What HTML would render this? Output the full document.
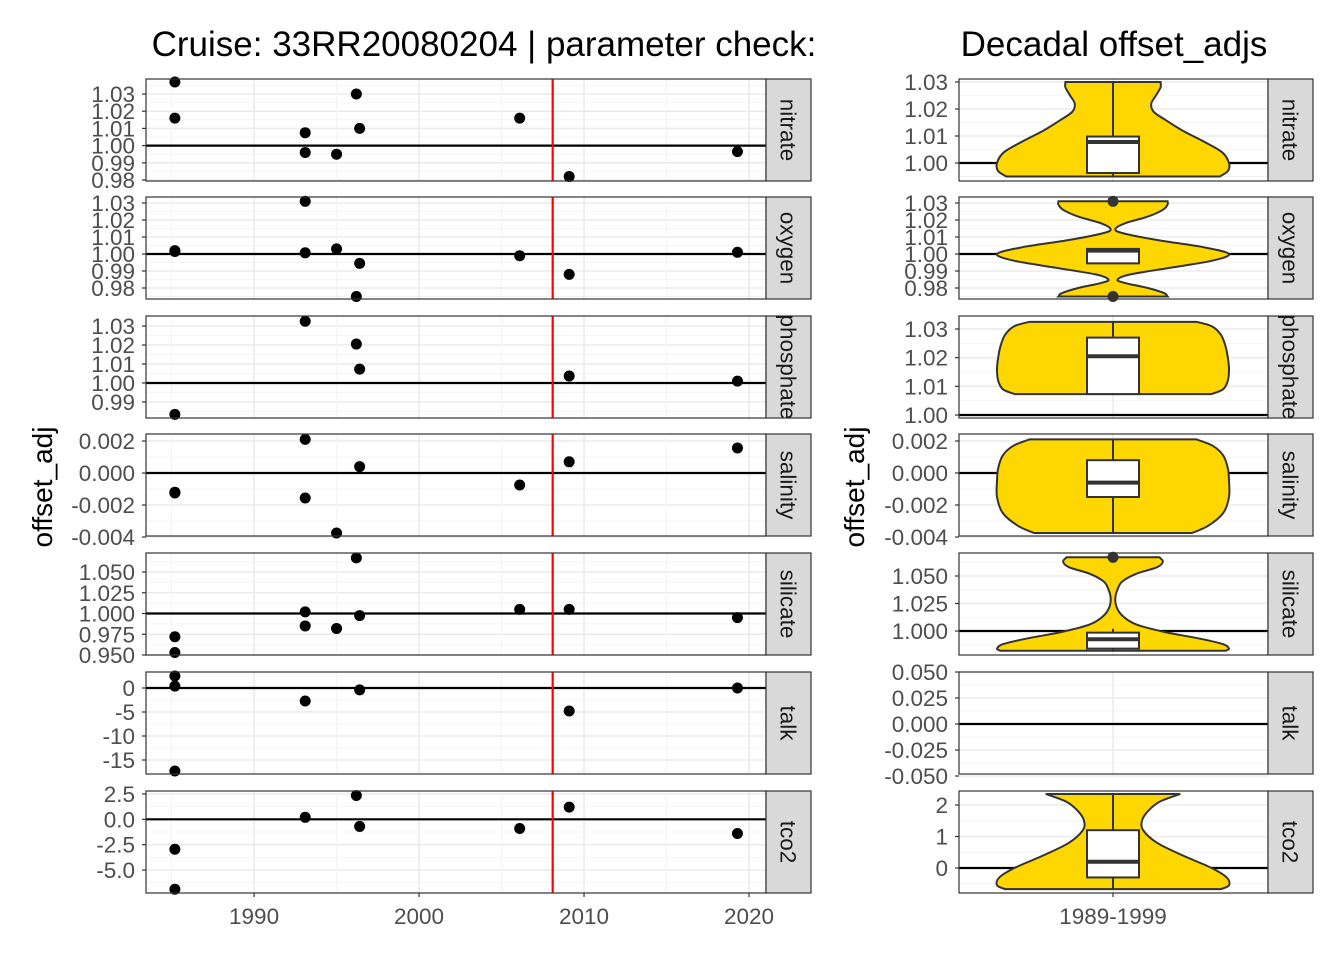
<!DOCTYPE html>
<html><head><meta charset="utf-8">
<style>
html,body{margin:0;padding:0;background:#fff;}
svg{display:block;font-family:"Liberation Sans",sans-serif;}
</style></head>
<body>
<svg id="chart" width="1344" height="960" viewBox="0 0 1344 960" xmlns="http://www.w3.org/2000/svg"></svg>
<script>
// ---------- DATA ----------
const params = ["nitrate","oxygen","phosphate","salinity","silicate","talk","tco2"];
const years = {
  nitrate:[1985.2,1985.2,1993.1,1993.1,1995.0,1996.2,1996.4,2006.1,2009.1,2019.3],
  oxygen:[1985.2,1985.2,1993.1,1993.1,1995.0,1996.2,1996.4,2006.1,2009.1,2019.3],
  phosphate:[1985.2,1993.1,1996.2,1996.4,2009.1,2019.3],
  salinity:[1985.2,1985.2,1993.1,1993.1,1995.0,1996.4,2006.1,2009.1,2019.3],
  silicate:[1985.2,1985.2,1993.1,1993.1,1995.0,1996.2,1996.4,2006.1,2009.1,2019.3],
  talk:[1985.2,1985.2,1985.2,1993.1,1996.4,2009.1,2019.3],
  tco2:[1985.2,1985.2,1993.1,1996.2,1996.4,2006.1,2009.1,2019.3]
};
const offsets = {
  nitrate:[1.037,1.016,1.0075,0.996,0.995,1.03,1.01,1.016,0.982,0.9965],
  oxygen:[1.002,1.0015,1.031,1.0007,1.003,0.975,0.9945,0.999,0.988,1.001],
  phosphate:[0.9835,1.0325,1.0205,1.0073,1.0037,1.001],
  salinity:[-0.00125,-0.0012,0.0021,-0.00156,-0.00375,0.0004,-0.00075,0.0007,0.00156],
  silicate:[0.972,0.953,1.002,0.985,0.982,1.067,0.9975,1.005,1.005,0.995],
  talk:[2.5,0.4,-17.3,-2.7,-0.4,-4.8,0],
  tco2:[-2.95,-6.9,0.2,2.35,-0.7,-0.9,1.2,-1.4]
};
const leftTicks = {
  nitrate:[1.03,1.02,1.01,1.00,0.99,0.98],
  oxygen:[1.03,1.02,1.01,1.00,0.99,0.98],
  phosphate:[1.03,1.02,1.01,1.00,0.99],
  salinity:[0.002,0.000,-0.002,-0.004],
  silicate:[1.050,1.025,1.000,0.975,0.950],
  talk:[0,-5,-10,-15],
  tco2:[2.5,0.0,-2.5,-5.0]
};
const leftTickLabels = {
  nitrate:["1.03","1.02","1.01","1.00","0.99","0.98"],
  oxygen:["1.03","1.02","1.01","1.00","0.99","0.98"],
  phosphate:["1.03","1.02","1.01","1.00","0.99"],
  salinity:["0.002","0.000","-0.002","-0.004"],
  silicate:["1.050","1.025","1.000","0.975","0.950"],
  talk:["0","-5","-10","-15"],
  tco2:["2.5","0.0","-2.5","-5.0"]
};
const rightTicks = {
  nitrate:[1.03,1.02,1.01,1.00],
  oxygen:[1.03,1.02,1.01,1.00,0.99,0.98],
  phosphate:[1.03,1.02,1.01,1.00],
  salinity:[0.002,0.000,-0.002,-0.004],
  silicate:[1.050,1.025,1.000],
  talk:[0.050,0.025,0.000,-0.025,-0.050],
  tco2:[2,1,0]
};
const rightTickLabels = {
  nitrate:["1.03","1.02","1.01","1.00"],
  oxygen:["1.03","1.02","1.01","1.00","0.99","0.98"],
  phosphate:["1.03","1.02","1.01","1.00"],
  salinity:["0.002","0.000","-0.002","-0.004"],
  silicate:["1.050","1.025","1.000"],
  talk:["0.050","0.025","0.000","-0.025","-0.050"],
  tco2:["2","1","0"]
};
const violinVals = {
  nitrate:[0.995,0.997,1.0,1.004,1.008,1.012,1.016,1.019,1.022,1.025,1.028,1.03],
  oxygen:[0.975,0.977,0.980,0.983,0.985,0.988,0.992,0.996,1.0,1.004,1.008,1.012,1.0145,1.018,1.022,1.026,1.029,1.031],
  phosphate:[1.0073,1.009,1.012,1.016,1.020,1.024,1.028,1.031,1.0325],
  salinity:[-0.00375,-0.0033,-0.0025,-0.0015,-0.0005,0.0003,0.0011,0.0017,0.0021],
  silicate:[0.982,0.984,0.988,0.993,0.999,1.006,1.014,1.022,1.030,1.038,1.045,1.052,1.058,1.063,1.067],
  tco2:[-0.67,-0.55,-0.3,0.0,0.4,0.8,1.2,1.5,1.8,2.1,2.35]
};
const violinWidths = {
  nitrate:[0.92,0.99,1.0,0.94,0.78,0.6,0.45,0.35,0.33,0.37,0.41,0.41],
  oxygen:[0.47,0.44,0.3,0.1,0.04,0.15,0.5,0.85,1.0,0.78,0.4,0.1,0.02,0.1,0.3,0.43,0.47,0.47],
  phosphate:[0.85,0.95,0.99,1.0,0.99,0.97,0.93,0.85,0.72],
  salinity:[0.68,0.82,0.95,1.0,1.0,0.99,0.95,0.86,0.72],
  silicate:[0.97,1.0,0.95,0.75,0.45,0.2,0.08,0.03,0.02,0.04,0.08,0.2,0.38,0.43,0.4],
  tco2:[0.93,1.0,0.98,0.85,0.6,0.38,0.26,0.25,0.3,0.4,0.58]
};
const boxLow = {nitrate:0.9963,oxygen:0.9945,phosphate:1.0073,salinity:-0.0015,silicate:0.984,tco2:-0.3};
const boxMed = {nitrate:1.0078,oxygen:1.002,phosphate:1.0205,salinity:-0.0006,silicate:0.9925,tco2:0.2};
const boxHigh = {nitrate:1.0098,oxygen:1.003,phosphate:1.027,salinity:0.0008,silicate:0.9985,tco2:1.2};
const whiskLow = {nitrate:0.995,oxygen:0.9945,phosphate:1.0073,salinity:-0.00375,silicate:0.982,tco2:-0.67};
const whiskHigh = {nitrate:1.03,oxygen:1.003,phosphate:1.0325,salinity:0.0021,silicate:1.002,tco2:2.35};
const outliers = {nitrate:[],oxygen:[1.031,0.975],phosphate:[],salinity:[],silicate:[1.067],tco2:[]};
const xTicks = [1990,2000,2010,2020];
const refYear = 2008.1;

const svg = document.getElementById('chart');
const NS = 'http://www.w3.org/2000/svg';
function mk(tag, attrs, parent){const e=document.createElementNS(NS,tag);for(const k in attrs)e.setAttribute(k,attrs[k]);(parent||svg).appendChild(e);return e;}
const panelTops=[79,197,316,434,553,672,791];
const panelH=102;
const L={x0:146,x1:766}, R={x0:959,x1:1268};
const stripW=45;
const FS=22.5;
const leftCal={nitrate:[1.03,15,0.98,101],oxygen:[1.03,6,0.98,91],phosphate:[1.03,10,0.99,86],salinity:[0.002,7,-0.004,103],silicate:[1.05,19,0.95,102],talk:[0,16,-15,88],tco2:[2.5,3,-5,79]};
const rightCal={nitrate:[1.03,3,1.0,84],oxygen:[1.03,6,0.98,91],phosphate:[1.03,13,1.0,99],salinity:[0.002,7,-0.004,103],silicate:[1.05,23,1.0,78],talk:[0.05,0,-0.05,104],tco2:[2,14,0,77]};
function yS(cal,top){return v=>top+cal[1]+(v-cal[0])*(cal[3]-cal[1])/(cal[2]-cal[0]);}
const xS=y=>L.x0+(y-1983.45)*(L.x1-L.x0)/(2021.03-1983.45);
const tickCol='#4d4d4d';

let t=mk('text',{x:484,y:56,'font-size':35,'text-anchor':'middle',fill:'#000'});t.textContent='Cruise: 33RR20080204 | parameter check:';

t=mk('text',{x:1114,y:56,'font-size':35,'text-anchor':'middle',fill:'#000'});t.textContent='Decadal offset_adjs';

t=mk('text',{x:52,y:487,'font-size':28,'text-anchor':'middle',transform:'rotate(-90 52 487)',fill:'#000'});t.textContent='offset_adj';

t=mk('text',{x:864,y:487,'font-size':28,'text-anchor':'middle',transform:'rotate(-90 864 487)',fill:'#000'});t.textContent='offset_adj';


let clipN=0;
function drawStrip(x,top,name,side){
  const g=mk('g',{});
  
  mk('rect',{x:x,y:top,width:stripW,height:panelH,fill:'#d9d9d9',stroke:'#333','stroke-width':1.2},g);
  const id='cs'+(clipN++);
  const clip=mk('clipPath',{id:id},g);
  mk('rect',{x:x,y:top,width:stripW,height:panelH},clip);
  const inner=mk('g',{'clip-path':'url(#'+id+')'},g);
  const cx=x+stripW/2-8, cy=top+panelH/2;
  const tt=mk('text',{x:cx,y:cy,'font-size':FS,'text-anchor':'middle',transform:`rotate(90 ${cx} ${cy})`,fill:'#1a1a1a'},inner);
  tt.textContent=name;
}
function yGrid(g,y,ticks,x0,x1,top){
  for(let i=0;i<ticks.length;i++){
    const yy=y(ticks[i]);
    if(i<ticks.length-1){const ym=(yy+y(ticks[i+1]))/2; if(ym>top&&ym<top+panelH) mk('line',{x1:x0,x2:x1,y1:ym,y2:ym,stroke:'#f4f4f4','stroke-width':1},g);}
    mk('line',{x1:x0,x2:x1,y1:yy,y2:yy,stroke:'#ebebeb','stroke-width':1.6},g);
  }
  if(ticks.length>1){const st=y(ticks[1])-y(ticks[0]);
    [y(ticks[0])-st/2,y(ticks[ticks.length-1])+st/2].forEach(ym=>{if(ym>top&&ym<top+panelH) mk('line',{x1:x0,x2:x1,y1:ym,y2:ym,stroke:'#f4f4f4','stroke-width':1},g);});}
}
function yAxis(P,y,ticks,labels,x0,side){
  const g=mk('g',{});
  ticks.forEach((v,i)=>{const yy=y(v);
    mk('line',{x1:x0-4,x2:x0,y1:yy,y2:yy,stroke:'#333','stroke-width':1.2},g);
    const tx=mk('text',{x:x0-11,y:yy+8,'font-size':FS,'text-anchor':'end',fill:tickCol},g);tx.textContent=labels[i];});
}

params.forEach((P,pi)=>{
  const top=panelTops[pi];
  const g=mk('g',{});
  mk('rect',{x:L.x0,y:top,width:L.x1-L.x0,height:panelH,fill:'#fff'},g);
  const y=yS(leftCal[P],top);
  yGrid(g,y,leftTicks[P],L.x0,L.x1,top);
  [1985,1995,2005,2015].forEach(v=>mk('line',{x1:xS(v),x2:xS(v),y1:top,y2:top+panelH,stroke:'#f4f4f4','stroke-width':1},g));
  xTicks.forEach(v=>mk('line',{x1:xS(v),x2:xS(v),y1:top,y2:top+panelH,stroke:'#ebebeb','stroke-width':1.6},g));
  const zero = (P==='salinity'||P==='talk'||P==='tco2')?0:1;
  mk('line',{x1:L.x0,x2:L.x1,y1:y(zero),y2:y(zero),stroke:'#000','stroke-width':2.2},g);
  const rl=mk('line',{x1:xS(refYear),x2:xS(refYear),y1:top,y2:top+panelH,stroke:'#ff0000','stroke-width':2.2},g);
  
  years[P].forEach((yr,i)=>{
    const c=mk('circle',{cx:xS(yr),cy:y(offsets[P][i]),r:5.5,fill:'#000'},g);
    
  });
  mk('rect',{x:L.x0,y:top,width:L.x1-L.x0,height:panelH,fill:'none',stroke:'#333','stroke-width':1.2},g);
  yAxis(P,y,leftTicks[P],leftTickLabels[P],L.x0,'left');
  drawStrip(L.x1,top,P,'left');

  const gr=mk('g',{});
  mk('rect',{x:R.x0,y:top,width:R.x1-R.x0,height:panelH,fill:'#fff'},gr);
  const yr=yS(rightCal[P],top);
  yGrid(gr,yr,rightTicks[P],R.x0,R.x1,top);
  const cx=1113;
  mk('line',{x1:cx,x2:cx,y1:top,y2:top+panelH,stroke:'#ebebeb','stroke-width':1.6},gr);
  mk('line',{x1:R.x0,x2:R.x1,y1:yr(zero),y2:yr(zero),stroke:'#000','stroke-width':2.2},gr);
  if(violinVals[P]){
    const vv=violinVals[P], ww=violinWidths[P], HW=116;
    const right=vv.map((v,i)=>[cx+ww[i]*HW,yr(v)]);
    const left=vv.map((v,i)=>[cx-ww[i]*HW,yr(v)]).reverse();
    function smooth(pts){let d='';for(let i=0;i<pts.length-1;i++){const p0=pts[Math.max(0,i-1)],p1=pts[i],p2=pts[i+1],p3=pts[Math.min(pts.length-1,i+2)];
      const c1=[p1[0]+(p2[0]-p0[0])/6,p1[1]+(p2[1]-p0[1])/6],c2=[p2[0]-(p3[0]-p1[0])/6,p2[1]-(p3[1]-p1[1])/6];
      d+=` C${c1[0]},${c1[1]} ${c2[0]},${c2[1]} ${p2[0]},${p2[1]}`;}return d;}
    const d=`M${right[0][0]},${right[0][1]}`+smooth(right)+` L${left[0][0]},${left[0][1]}`+smooth(left)+'Z';
    const vp=mk('path',{d:d,fill:'#ffd700',stroke:'#333','stroke-width':2},gr);
    
    const bg=mk('g',{},gr);
    mk('line',{x1:cx,x2:cx,y1:yr(whiskHigh[P]),y2:yr(boxHigh[P]),stroke:'#333','stroke-width':2},bg);
    mk('line',{x1:cx,x2:cx,y1:yr(boxLow[P]),y2:yr(whiskLow[P]),stroke:'#333','stroke-width':2},bg);
    mk('rect',{x:cx-26,y:yr(boxHigh[P]),width:52,height:yr(boxLow[P])-yr(boxHigh[P]),fill:'#fff',stroke:'#333','stroke-width':2},bg);
    mk('line',{x1:cx-26,x2:cx+26,y1:yr(boxMed[P]),y2:yr(boxMed[P]),stroke:'#333','stroke-width':4},bg);
    outliers[P].forEach(o=>{const c=mk('circle',{cx:cx,cy:yr(o),r:5.5,fill:'#333'},bg);
      });
  }
  mk('rect',{x:R.x0,y:top,width:R.x1-R.x0,height:panelH,fill:'none',stroke:'#333','stroke-width':1.2},gr);
  yAxis(P,yr,rightTicks[P],rightTickLabels[P],R.x0,'right');
  drawStrip(R.x1,top,P,'right');
});

const bottom=panelTops[6]+panelH;
const gx=mk('g',{});
xTicks.forEach(v=>{mk('line',{x1:xS(v),x2:xS(v),y1:bottom,y2:bottom+4,stroke:'#333','stroke-width':1.2},gx);
  const tx=mk('text',{x:xS(v),y:bottom+31,'font-size':FS,'text-anchor':'middle',fill:tickCol},gx);tx.textContent=v;});
const gx2=mk('g',{});
mk('line',{x1:1113,x2:1113,y1:bottom,y2:bottom+4,stroke:'#333','stroke-width':1.2},gx2);
t=mk('text',{x:1113,y:bottom+31,'font-size':FS,'text-anchor':'middle',fill:tickCol},gx2);t.textContent='1989-1999';
</script>
</body></html>
